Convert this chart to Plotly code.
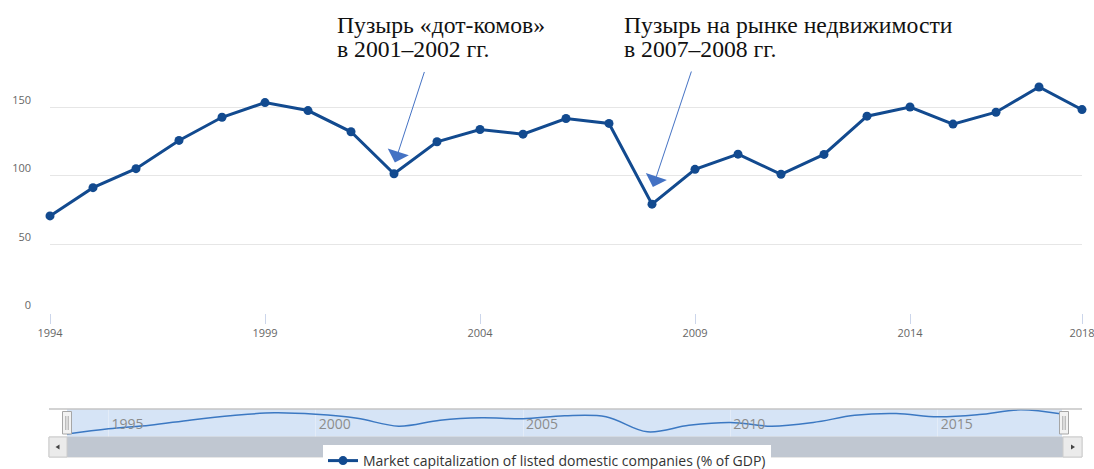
import plotly.graph_objects as go

# ---- data -------------------------------------------------------------
years = list(range(1994, 2019))
market_cap = [70.5, 91.1, 105.0, 125.6, 142.5, 153.2, 147.4, 131.9, 101.3,
              124.6, 133.6, 130.2, 141.6, 138.0, 79.1, 104.5, 115.6, 100.9,
              115.4, 143.3, 150.0, 137.5, 146.2, 164.6, 148.1]
series_name = "Market capitalization of listed domestic companies (% of GDP)"

y_ticks = [0, 50, 100, 150, 200]
y_tick_labels = ["0", "50", "100", "150", ""]
x_ticks = [1994, 1999, 2004, 2009, 2014, 2018]
nav_ticks = [1995, 2000, 2005, 2010, 2015]

note_dotcom = ["Пузырь «дот-комов»", "в 2001–2002 гг."]
note_housing = ["Пузырь на рынке недвижимости", "в 2007–2008 гг."]
# points the arrows aim at (year, % of GDP)
arrow_dotcom = (2002.02, 109.5)
arrow_housing = (2008.02, 91.6)

# ---- layout helpers (pixel -> paper) ----------------------------------
W, H = 1094, 469


def px(x):
    return x / W


def py(y):
    return 1 - y / H


LINE = "#124a8f"
NAV_LINE = "#3b78c2"
GRID = "#e6e6e6"
TICK_FONT = dict(family="Open Sans", size=11, color="#666666")

fig = go.Figure()

fig.add_trace(go.Scatter(
    x=years, y=market_cap, name=series_name,
    mode="lines+markers",
    line=dict(color=LINE, width=3),
    marker=dict(size=9, color=LINE),
    cliponaxis=False,
))

# navigator overview line
fig.add_trace(go.Scatter(
    x=years, y=market_cap, xaxis="x2", yaxis="y2",
    mode="lines",
    line=dict(color=NAV_LINE, width=1.5, shape="spline", smoothing=1.0),
    showlegend=False, hoverinfo="skip",
))

shapes = [
    # navigator mask
    dict(type="rect", xref="x2 domain", yref="y2 domain", x0=0, x1=1, y0=0, y1=1,
         fillcolor="#d6e4f6", line=dict(width=0), layer="below"),
    # navigator outline
    dict(type="line", xref="paper", yref="paper", x0=px(49), x1=px(1082),
         y0=py(409), y1=py(409), line=dict(color="#c4c4c4", width=1.5)),
    # scrollbar track + thumb
    dict(type="rect", xref="paper", yref="paper", x0=px(49), x1=px(1082),
         y0=py(457), y1=py(437), fillcolor="#f2f2f2",
         line=dict(color="#d0d0d0", width=1)),
    dict(type="rect", xref="paper", yref="paper", x0=px(67), x1=px(1063),
         y0=py(457), y1=py(437), fillcolor="#c0c7d1", line=dict(width=0)),
    # scrollbar buttons
    dict(type="rect", xref="paper", yref="paper", x0=px(49), x1=px(67),
         y0=py(457), y1=py(437), fillcolor="#ebebeb",
         line=dict(color="#cccccc", width=1)),
    dict(type="rect", xref="paper", yref="paper", x0=px(1063), x1=px(1082),
         y0=py(457), y1=py(437), fillcolor="#ebebeb",
         line=dict(color="#cccccc", width=1)),
    dict(type="path", xref="paper", yref="paper",
         path=f"M {px(59.5)},{py(444.5)} L {px(55.5)},{py(447)} L {px(59.5)},{py(449.5)} Z",
         fillcolor="#444444", line=dict(width=0)),
    dict(type="path", xref="paper", yref="paper",
         path=f"M {px(1071)},{py(444.5)} L {px(1075)},{py(447)} L {px(1071)},{py(449.5)} Z",
         fillcolor="#444444", line=dict(width=0)),
    # white strip behind the captions
    dict(type="rect", xref="paper", yref="paper", x0=px(313), x1=px(973),
         y0=py(44), y1=py(32), fillcolor="white", line=dict(width=0)),
]

# navigator handles
for hx in (67, 1064):
    shapes.append(dict(type="rect", xref="paper", yref="paper",
                       x0=px(hx - 4.5), x1=px(hx + 4.5), y0=py(434), y1=py(411.5),
                       fillcolor="#f2f2f2", line=dict(color="#a6a6a6", width=1)))
    for dx in (-1.2, 1.2):
        shapes.append(dict(type="line", xref="paper", yref="paper",
                           x0=px(hx + dx), x1=px(hx + dx), y0=py(430), y1=py(416),
                           line=dict(color="#a6a6a6", width=1)))

NOTE_FONT = dict(family="Liberation Serif", size=23.7, color="#111111")
annotations = []
for left, lines in ((335, note_dotcom), (622, note_housing)):
    for centre, txt in zip((24.5, 49.5), lines):
        annotations.append(dict(
            text=txt, xref="paper", yref="paper", x=px(left), y=py(centre),
            xanchor="left", yanchor="middle", showarrow=False, font=NOTE_FONT,
        ))

for (ax_, ay_), tip in (((30, -92), arrow_dotcom), ((39, -117), arrow_housing)):
    annotations.append(dict(
        text="", x=tip[0], y=tip[1], xref="x", yref="y",
        ax=ax_, ay=ay_, showarrow=True, arrowhead=1, arrowsize=3.7,
        arrowwidth=1, arrowcolor="#4472c4", standoff=0,
    ))

fig.update_layout(
    width=W, height=H,
    margin=dict(l=0, r=0, t=0, b=0, autoexpand=False),
    paper_bgcolor="white", plot_bgcolor="white",
    font=dict(family="Open Sans"),
    showlegend=True,
    legend=dict(
        orientation="h", x=px(323), y=py(445), xanchor="left", yanchor="top",
        bgcolor="white", font=dict(family="Open Sans", size=14, color="#333333"),
    ),
    xaxis=dict(
        domain=[px(50), px(1082)], range=[1994, 2018], anchor="y",
        tickvals=x_ticks, ticks="outside", ticklen=10, tickcolor="#ccd6eb",
        showgrid=False, zeroline=False, showline=False, tickfont=TICK_FONT,
        automargin=False, ticklabeloverflow="allow",
    ),
    yaxis=dict(
        domain=[py(312.5), py(38.5)], range=[0, 200], anchor="x",
        tickvals=y_ticks, ticktext=y_tick_labels, gridcolor=GRID, gridwidth=1,
        zeroline=False, showline=False, ticks="", tickfont=TICK_FONT,
        ticklabelstandoff=18, ticklabelshift=-7, automargin=False,
    ),
    xaxis2=dict(
        domain=[px(67), px(1062)], range=[1994, 2018], anchor="y2",
        tickvals=nav_ticks, ticklabelposition="inside right", ticks="",
        showgrid=True, gridcolor="#e3ecf8", zeroline=False, showline=False,
        tickfont=dict(family="Open Sans", size=14, color="#8c8c8c"),
        ticklabelstandoff=-1, ticklabelshift=3, automargin=False,
    ),
    yaxis2=dict(
        domain=[py(437), py(409)], range=[59, 168], anchor="x2",
        visible=False, automargin=False,
    ),
    shapes=shapes,
    annotations=annotations,
)

fig.write_html("out.html")
